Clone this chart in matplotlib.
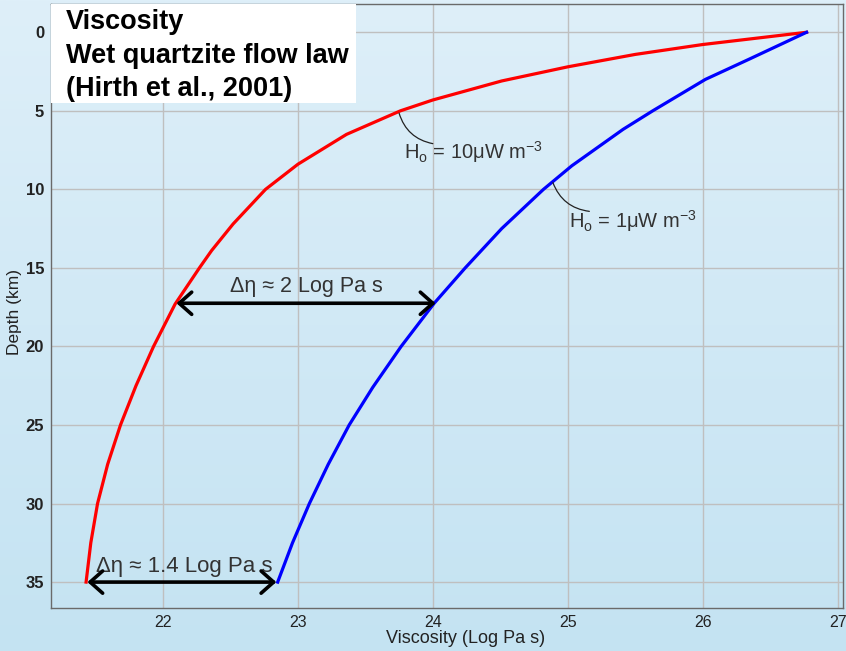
import numpy as np
import matplotlib
matplotlib.use("Agg")
import matplotlib.pyplot as plt
from matplotlib.patches import Rectangle

plt.rcParams['font.family'] = ['Liberation Sans', 'DejaVu Sans']
plt.rcParams['mathtext.fontset'] = 'custom'
plt.rcParams['mathtext.rm'] = 'Liberation Sans'

# depth (km) and log viscosity
depth_h10 = [0, 0.78, 1.41, 2.2, 3.1, 4.31, 5.0, 6.5, 8.4, 10, 12.2, 13.9, 15, 17.3,
             20, 22.5, 25, 27.5, 30, 32.5, 35]
visc_h10 = [26.77, 26.0, 25.50, 25.0, 24.51, 24.0, 23.76, 23.36, 23.0, 22.76, 22.52, 22.36,
            22.27, 22.09, 21.93, 21.80, 21.685, 21.59, 21.515, 21.465, 21.43]

depth_h1 = [0, 1.73, 3.0, 5.0, 6.18, 8.5, 10, 12.5, 15, 17.25, 20, 22.6, 25, 27.5, 30, 32.5, 35]
visc_h1 = [26.77, 26.34, 26.02, 25.63, 25.41, 25.03, 24.82, 24.51, 24.24, 24.01, 23.765, 23.555,
           23.38, 23.225, 23.085, 22.96, 22.85]

xticks = [22, 23, 24, 25, 26, 27]
yticks = [0, 5, 10, 15, 20, 25, 30, 35]
title_lines = ["Viscosity", "Wet quartzite flow law", "(Hirth et al., 2001)"]

fig = plt.figure(figsize=(8.46, 6.51), dpi=100)

# light blue gradient background
bg = fig.add_axes([0, 0, 1, 1], zorder=-10)
grad = np.linspace(0, 1, 256).reshape(-1, 1)
top = np.array([222, 239, 249]) / 255
bot = np.array([196, 227, 242]) / 255
img = top + (bot - top) * grad[:, :, None]
bg.imshow(img, aspect='auto', extent=[0, 1, 0, 1])
bg.axis('off')

ax = fig.add_axes([51 / 846, 1 - 608 / 651, 792 / 846, 604 / 651])
ax.set_facecolor('none')

ax.plot(visc_h10, depth_h10, color='#ff0000', lw=2.3, zorder=3, solid_joinstyle='round')
ax.plot(visc_h1, depth_h1, color='#0000ff', lw=2.3, zorder=3, solid_joinstyle='round')

ax.set_xlim(21.17, 27.04)
ax.set_ylim(36.65, -1.8)
ax.set_xticks(xticks)
ax.set_yticks(yticks)
ax.grid(True, color='#bfbfbf', lw=1)
ax.set_axisbelow(True)
ax.tick_params(length=0, colors='#222222')
ax.tick_params(axis='x', pad=5, labelsize=11.5)
ax.tick_params(axis='y', pad=5, labelsize=12)
for lab in ax.get_yticklabels():
    lab.set_fontweight('bold')
for s in ax.spines.values():
    s.set_color('#6a6a6a')
    s.set_linewidth(1)

ax.set_xlabel("Viscosity (Log Pa s)", fontsize=13, color='#222222')
ax.set_ylabel("Depth (km)", fontsize=12.5, color='#222222')
ax.xaxis.set_label_coords(0.523, -0.036)
ax.yaxis.set_label_coords(-0.036, 0.49)

# title box
ax.add_patch(Rectangle((0, 0.836), 0.385, 0.164, transform=ax.transAxes,
                       facecolor='white', edgecolor='none', zorder=4))
for line, yc in zip(title_lines, [0.9695, 0.9145, 0.8595]):
    ax.text(0.019, yc, line, transform=ax.transAxes, ha='left', va='center',
            fontsize=19.5, fontweight='bold', color='black', zorder=5)

# curve labels with leader lines
lead = dict(arrowstyle='-', color='#222222', lw=0.9,
            connectionstyle='arc3,rad=-0.3', shrinkA=0, shrinkB=0)
ax.annotate("", xy=(23.75, 5.15), xytext=(24.0, 7.09), arrowprops=lead)
ax.text(23.79, 7.65, r"H$_\mathrm{o}$ = 10μW m$^{-3}$", fontsize=14.5,
        color='#333333', va='center', ha='left')
ax.annotate("", xy=(24.89, 9.57), xytext=(25.16, 11.4), arrowprops=lead)
ax.text(25.01, 12.0, r"H$_\mathrm{o}$ = 1μW m$^{-3}$", fontsize=14.5,
        color='#333333', va='center', ha='left')

# viscosity contrast arrows
arrow = dict(arrowstyle='<->,head_length=0.45,head_width=0.4', color='black', lw=2.6,
             mutation_scale=20, shrinkA=0, shrinkB=0)
ax.annotate("", xy=(22.1, 17.25), xytext=(24.02, 17.25), arrowprops=arrow, zorder=6)
ax.text(23.06, 16.2, "Δη ≈ 2 Log Pa s", fontsize=15.5, color='#333333',
        ha='center', va='center')
ax.annotate("", xy=(21.44, 35), xytext=(22.84, 35), arrowprops=arrow, zorder=6)
ax.text(21.5, 34.0, "Δη ≈ 1.4 Log Pa s", fontsize=16, color='#333333',
        ha='left', va='center')

fig.savefig("out.png", dpi=100)
